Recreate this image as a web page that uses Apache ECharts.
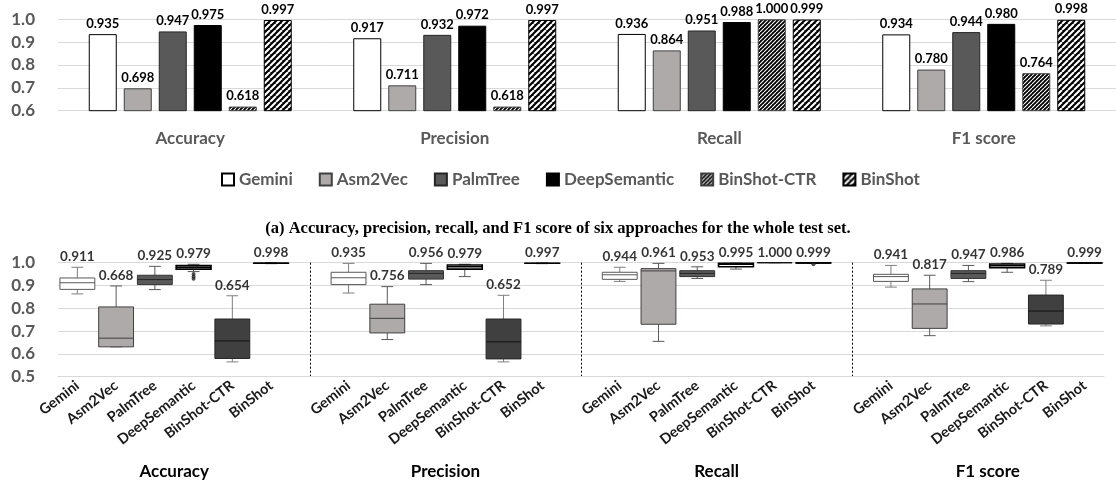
<!DOCTYPE html>
<html><head><meta charset="utf-8">
<script src="https://cdn.jsdelivr.net/npm/echarts@6/dist/echarts.min.js"></script>
<style>html,body{margin:0;padding:0;background:#fff}#c{width:1116px;height:487px}</style>
</head><body><div id="c"></div>
<script>
// ---------- data ----------
const metrics = ['Accuracy', 'Precision', 'Recall', 'F1 score'];
const methods = ['Gemini', 'Asm2Vec', 'PalmTree', 'DeepSemantic', 'BinShot-CTR', 'BinShot'];
const topTicks = [0.6, 0.7, 0.8, 0.9, 1.0];
const bottomTicks = [0.5, 0.6, 0.7, 0.8, 0.9, 1.0];

// (a) whole test set, values in metric order
const gemini       = [0.935, 0.917, 0.936, 0.934];
const asm2vec      = [0.698, 0.711, 0.864, 0.780];
const palmtree     = [0.947, 0.932, 0.951, 0.944];
const deepsemantic = [0.975, 0.972, 0.988, 0.980];
const binshotCTR   = [0.618, 0.618, 1.000, 0.764];
const binshot      = [0.997, 0.997, 0.999, 0.998];

// box statistics [min, Q1, median, Q3, max], method order
const accBox  = [[0.863,0.883,0.912,0.933,0.980],[0.631,0.631,0.669,0.806,0.898],[0.882,0.904,0.926,0.945,0.984],[0.961,0.972,0.980,0.987,0.993],[0.565,0.580,0.657,0.753,0.855],[0.996,0.997,0.998,0.998,0.999]];
const precBox = [[0.867,0.904,0.934,0.958,0.997],[0.663,0.692,0.756,0.818,0.895],[0.904,0.928,0.953,0.965,0.997],[0.939,0.972,0.982,0.990,0.993],[0.565,0.578,0.653,0.753,0.857],[0.996,0.997,0.997,0.998,0.998]];
const recBox  = [[0.918,0.927,0.947,0.958,0.980],[0.655,0.730,0.964,0.974,0.997],[0.931,0.939,0.953,0.965,0.982],[0.972,0.982,0.993,0.997,0.998],[1.000,1.000,1.000,1.000,1.000],[0.998,0.999,0.999,1.000,1.000]];
const f1Box   = [[0.893,0.918,0.939,0.949,0.988],[0.680,0.712,0.819,0.885,0.945],[0.917,0.931,0.953,0.965,0.988],[0.958,0.978,0.987,0.994,0.997],[0.723,0.731,0.788,0.858,0.923],[0.997,0.998,0.999,0.999,1.000]];
// value labels shown above boxes
const accLabel  = [0.911, 0.668, 0.925, 0.979, 0.654, 0.998];
const precLabel = [0.935, 0.756, 0.956, 0.979, 0.652, 0.997];
const recLabel  = [0.944, 0.961, 0.953, 0.995, 1.000, 0.999];
const f1Label   = [0.941, 0.817, 0.947, 0.986, 0.789, 0.999];
// outliers: [methodIndex, value]
const accOutliers = [[3, 0.950], [3, 0.940], [3, 0.930]];
const recOutliers = [[5, 0.993]];

const caption = '(a) Accuracy, precision, recall, and F1 score of six approaches for the whole test set.';

// ---------- styles ----------
const FONT = 'Lato';
const W = 'bold';
function stripes(P, w) {
  const c = document.createElement('canvas'); c.width = P; c.height = P;
  const g = c.getContext('2d');
  g.fillStyle = '#000'; g.fillRect(0, 0, P, P);
  g.strokeStyle = '#fff'; g.lineWidth = w;
  g.beginPath();
  for (const o of [-P, 0, P]) { g.moveTo(o, P); g.lineTo(o + P, 0); }
  g.stroke();
  return c;
}
const barStyles = [
  { color: '#ffffff', borderColor: '#000', borderWidth: 1 },
  { color: '#aeaaaa', borderColor: '#404040', borderWidth: 1 },
  { color: '#595959', borderColor: '#262626', borderWidth: 1 },
  { color: '#000000', borderColor: '#000', borderWidth: 1 },
  { color: { image: stripes(4, 1.1), repeat: 'repeat' }, borderColor: '#404040', borderWidth: 1 },
  { color: { image: stripes(6, 2.1), repeat: 'repeat' }, borderColor: '#000', borderWidth: 1 }
];
const boxStyles = [
  { fill: '#ffffff', stroke: '#595959', whisker: '#7f7f7f', median: '#595959', lw: 1 },
  { fill: '#aeaaaa', stroke: '#404040', whisker: '#595959', median: '#404040', lw: 1 },
  { fill: '#595959', stroke: '#333333', whisker: '#595959', median: '#262626', lw: 1 },
  { fill: '#ffffff', stroke: '#000000', whisker: '#595959', median: '#000000', lw: 1.6 },
  { fill: '#404040', stroke: '#262626', whisker: '#7f7f7f', median: '#111111', lw: 1 },
  { fill: '#000000', stroke: '#000000', whisker: '#000000', median: '#000000', lw: 1.4 }
];

// ---------- build bottom category axis (blank slot between groups) ----------
const boxSets = [accBox, precBox, recBox, f1Box];
const labelSets = [accLabel, precLabel, recLabel, f1Label];
const outlierSets = [accOutliers, [], recOutliers, []];
const bottomCats = [];
const boxData = [], labelData = [], outlierData = [];
const groupCenters = [], blankIdx = [];
boxSets.forEach((set, g) => {
  if (g > 0) { blankIdx.push(bottomCats.length); bottomCats.push(''); }
  const start = bottomCats.length;
  methods.forEach((m, i) => {
    const idx = bottomCats.length;
    bottomCats.push(m);
    boxData.push([idx].concat(set[i]).concat([i]));
    labelData.push([idx, set[i][4], labelSets[g][i]]);
  });
  outlierSets[g].forEach(o => outlierData.push([start + o[0], o[1]]));
  groupCenters.push((start + bottomCats.length - 1) / 2);
});

function renderBox(params, api) {
  const x = api.value(0);
  const st = boxStyles[api.value(6)];
  const pMin = api.coord([x, api.value(1)]);
  const pQ1 = api.coord([x, api.value(2)]);
  const pMed = api.coord([x, api.value(3)]);
  const pQ3 = api.coord([x, api.value(4)]);
  const pMax = api.coord([x, api.value(5)]);
  const bw = api.size([1, 0])[0] * 0.9;
  const cap = bw * 0.34;
  const cx = pMed[0];
  const ws = { stroke: st.whisker, lineWidth: 1 };
  return {
    type: 'group',
    children: [
      { type: 'line', shape: { x1: cx, y1: pMax[1], x2: cx, y2: pQ3[1] }, style: ws },
      { type: 'line', shape: { x1: cx, y1: pQ1[1], x2: cx, y2: pMin[1] }, style: ws },
      { type: 'line', shape: { x1: cx - cap / 2, y1: pMax[1], x2: cx + cap / 2, y2: pMax[1] }, style: ws },
      { type: 'line', shape: { x1: cx - cap / 2, y1: pMin[1], x2: cx + cap / 2, y2: pMin[1] }, style: ws },
      { type: 'rect', shape: { x: cx - bw / 2, y: pQ3[1], width: bw, height: pQ1[1] - pQ3[1] },
        style: { fill: st.fill, stroke: st.stroke, lineWidth: st.lw } },
      { type: 'line', shape: { x1: cx - bw / 2, y1: pMed[1], x2: cx + bw / 2, y2: pMed[1] },
        style: { stroke: st.median, lineWidth: st.lw } }
    ]
  };
}

const topSeriesData = [gemini, asm2vec, palmtree, deepsemantic, binshotCTR, binshot];
const axisLabelStyle = { fontFamily: FONT, fontWeight: W, fontSize: 17, color: '#595959' };

const chart = echarts.init(document.getElementById('c'), null, { renderer: 'canvas' });
const option = {
  animation: false,
  textStyle: { fontFamily: FONT, fontWeight: W },
  grid: [
    { left: 58, top: 19.3, width: 1060, height: 91.4, containLabel: false },
    { left: 58, top: 262.7, width: 1046, height: 114, containLabel: false }
  ],
  legend: {
    data: methods, top: 166, left: 216, itemWidth: 12, itemHeight: 12, itemGap: 26,
    icon: 'rect', textStyle: { fontFamily: FONT, fontWeight: W, fontSize: 17, color: '#595959' }
  },
  xAxis: [
    { type: 'category', gridIndex: 0, data: metrics, axisTick: { show: false },
      axisLine: { lineStyle: { color: '#d9d9d9' } },
      axisLabel: Object.assign({ margin: 19 }, axisLabelStyle) },
    { type: 'category', gridIndex: 1, data: bottomCats, axisTick: { show: false },
      axisLine: { lineStyle: { color: '#d9d9d9' } },
      axisLabel: { interval: 0, rotate: 38, margin: 7, fontFamily: FONT, fontWeight: W, fontSize: 14.5, color: '#1a1a1a' } }
  ],
  yAxis: [
    { type: 'value', gridIndex: 0, min: topTicks[0], max: topTicks[topTicks.length - 1], interval: 0.1,
      splitLine: { lineStyle: { color: '#d9d9d9' } }, axisLine: { show: false }, axisTick: { show: false },
      axisLabel: Object.assign({ margin: 23, formatter: v => v.toFixed(1) }, axisLabelStyle) },
    { type: 'value', gridIndex: 1, min: bottomTicks[0], max: bottomTicks[bottomTicks.length - 1], interval: 0.1,
      splitLine: { lineStyle: { color: '#d9d9d9' } }, axisLine: { show: false }, axisTick: { show: false },
      axisLabel: Object.assign({ margin: 23, formatter: v => v.toFixed(1) }, axisLabelStyle) }
  ],
  series: topSeriesData.map((d, i) => ({
    name: methods[i], type: 'bar', xAxisIndex: 0, yAxisIndex: 0, data: d,
    barWidth: 28, barGap: '25%', itemStyle: barStyles[i],
    label: { show: true, position: 'top', distance: 4, fontFamily: FONT, fontWeight: W, fontSize: 13,
      color: '#000', formatter: p => p.value.toFixed(3) }
  })).concat([
    { type: 'custom', name: 'boxes', xAxisIndex: 1, yAxisIndex: 1, renderItem: renderBox,
      data: boxData, encode: { x: 0, y: [1, 2, 3, 4, 5] }, silent: true, clip: false },
    { type: 'scatter', name: 'outliers', xAxisIndex: 1, yAxisIndex: 1, data: outlierData,
      symbolSize: 4, itemStyle: { color: '#262626' }, silent: true },
    { type: 'scatter', name: 'boxlabels', xAxisIndex: 1, yAxisIndex: 1, data: labelData,
      symbolSize: 1, itemStyle: { color: 'rgba(0,0,0,0)' }, silent: true,
      label: { show: true, position: 'top', distance: 3, fontFamily: FONT, fontWeight: W, fontSize: 13.5,
        color: '#000', formatter: p => p.value[2].toFixed(3) } }
  ])
};
chart.setOption(option);

// decorations positioned through the bottom axis
const yTop = chart.convertToPixel({ yAxisIndex: 1 }, bottomTicks[bottomTicks.length - 1]);
const yBot = chart.convertToPixel({ yAxisIndex: 1 }, bottomTicks[0]);
const graphics = [];
blankIdx.forEach(b => {
  const x = Math.round(chart.convertToPixel({ xAxisIndex: 1 }, b)) + 0.5;
  graphics.push({ type: 'line', shape: { x1: x, y1: yTop, x2: x, y2: yBot },
    style: { stroke: '#000', lineWidth: 1, lineDash: [2, 2] }, silent: true });
});
groupCenters.forEach((c, g) => {
  const x0 = chart.convertToPixel({ xAxisIndex: 1 }, Math.floor(c));
  const x1 = chart.convertToPixel({ xAxisIndex: 1 }, Math.ceil(c));
  const x = x0 + (x1 - x0) * (c - Math.floor(c));
  graphics.push({ type: 'text', x: x, y: 472, style: { text: metrics[g], fontFamily: FONT, fontWeight: W,
    fontSize: 17, fill: '#000', textAlign: 'center', textVerticalAlign: 'middle' }, silent: true });
});
graphics.push({ type: 'text', x: 558, y: 229, style: { text: caption, fontFamily: 'Liberation Serif', fontWeight: 'bold',
  fontSize: 16.5, fill: '#000', textAlign: 'center', textVerticalAlign: 'middle' }, silent: true });
chart.setOption({ graphic: graphics });
</script>
</body></html>
